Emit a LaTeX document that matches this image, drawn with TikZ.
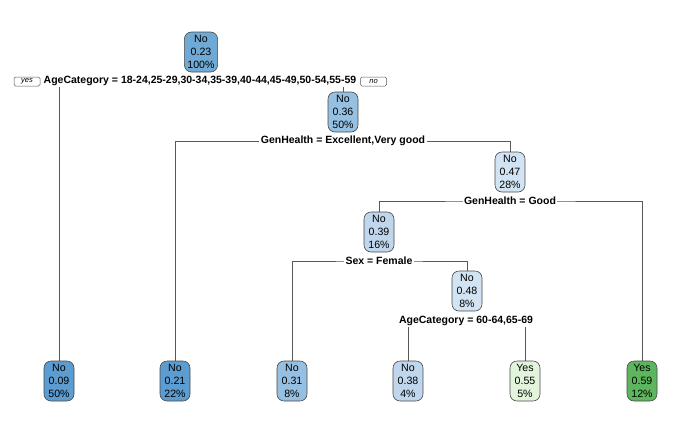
\documentclass[tikz,border=0pt]{standalone}
\usepackage{fontspec}
\setmainfont{Liberation Sans}
\usepackage{tikz}
\usetikzlibrary{backgrounds}
\definecolor{blueA}{HTML}{5C9CD0}
\definecolor{blueB}{HTML}{70AAD4}
\definecolor{blueC}{HTML}{96C0E1}
\definecolor{blueD}{HTML}{BFD6ED}
\definecolor{blueE}{HTML}{D2E3F3}
\definecolor{greenA}{HTML}{E2F4DC}
\definecolor{greenB}{HTML}{5DB65E}
\definecolor{edgegray}{HTML}{585858}
\definecolor{boxgray}{HTML}{484848}
\tikzstyle{treebox} = [draw=boxgray, line width=0.6pt,
	rounded corners=7pt,
	minimum width=30pt,
	minimum height=40pt,
	inner xsep=3pt, inner ysep=0pt,
	align=center,
	font=\fontsize{10.6}{12.8}\selectfont]
\tikzstyle{split} = [fill=white, inner xsep=1.5pt, inner ysep=1pt,
	font=\fontsize{10.5}{12}\selectfont\bfseries]
\tikzstyle{tag} = [draw=edgegray, line width=0.5pt, rounded corners=1.5pt,
	minimum width=26pt, minimum height=9pt, inner sep=0pt,
	font=\fontsize{7.5}{8}\selectfont\itshape]
\tikzstyle{edge} = [draw=edgegray, line width=0.7pt]
\newcommand{\drawnode}[6]{\node[treebox, fill=#3] (#1) at #2 {#4\\#5\\#6}}

\begin{document}
\begin{tikzpicture}[x=1pt, y=-1pt]
			\useasboundingbox (0,0) rectangle (700,432);
			
			\drawnode{n1}{(201,52)}{blueB}{No}{0.23}{100\%};
			\drawnode{n2}{(343,112)}{blueC}{No}{0.36}{50\%};
			\drawnode{n3}{(510,172)}{blueE}{No}{0.47}{28\%};
			\drawnode{n4}{(379,232)}{blueD}{No}{0.39}{16\%};
			\drawnode{n5}{(467,291)}{blueE}{No}{0.48}{8\%};
			
			\drawnode{l1}{(59,381)}{blueA}{No}{0.09}{50\%};
			\drawnode{l2}{(175,381)}{blueA}{No}{0.21}{22\%};
			\drawnode{l3}{(292,381)}{blueC}{No}{0.31}{8\%};
			\drawnode{l4}{(408,381)}{blueD}{No}{0.38}{4\%};
			\drawnode{l5}{(525,381)}{greenA}{Yes}{0.55}{5\%};
			\drawnode{l6}{(642,381)}{greenB}{Yes}{0.59}{12\%};
			
			\node (s1)[split] at (200,81) {AgeCategory = 18-24,25-29,30-34,35-39,40-44,45-49,50-54,55-59};
			\node (s2)[split] at (343,141) {GenHealth = Excellent,Very good};
			\node (s3)[split] at (510,201) {GenHealth = Good};
			\node (s4)[split] at (379,261) {Sex = Female};
			\node (s5)[split] at (466,321) {AgeCategory = 60-64,65-69};
			
			\node (yes)[tag] at (27,81.5) {yes};
			\node (no)[tag] at (373.5,81.5) {no};
			
			\begin{scope}[on background layer]
				\draw [edge] (l1.north) |- (s1.center) -| (n2.north);
				\draw [edge] (l2.north) |- (s2.center) -| (n3.north);
				\draw [edge] (n4.north) |- (s3.center) -| (l6.north);
				\draw [edge] (l3.north) |- (s4.center) -| (n5.north);
				\draw [edge] (l4.north) |- (s5.center) -| (l5.north);
			\end{scope}
		\end{tikzpicture}
\end{document}
